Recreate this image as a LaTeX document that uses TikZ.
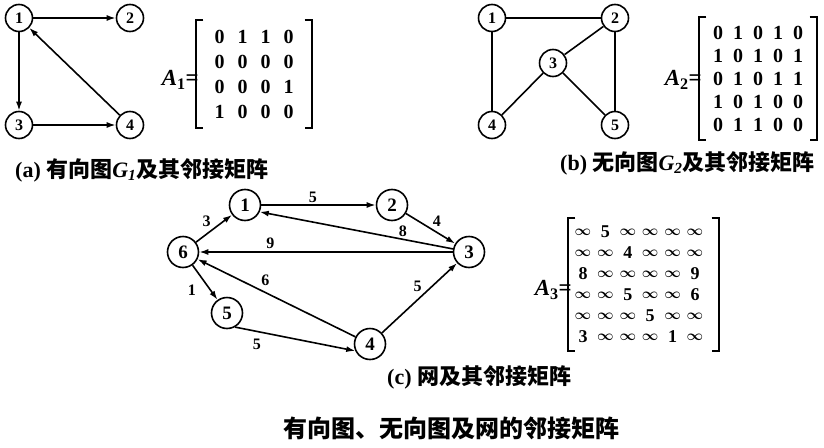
\documentclass[tikz,border=0pt]{standalone}
\usepackage{fontspec}
\setmainfont{Liberation Serif}
\newfontfamily\cjk{Noto Sans CJK SC}
\usetikzlibrary{arrows.meta,matrix,calc}
\newcommand\myinf{{\fontsize{14.5}{14.5}\selectfont\boldmath$\infty$}}
\newcommand\drawbrk[3]{%
  \draw[brk] ($(#1.north west)+(-#2+7,0)$) -- ($(#1.north west)+(-#2,0)$)
     -- ($(#1.south west)+(-#2,0)$) -- ($(#1.south west)+(-#2+7,0)$);
  \draw[brk] ($(#1.north east)+(#3-7,0)$) -- ($(#1.north east)+(#3,0)$)
     -- ($(#1.south east)+(#3,0)$) -- ($(#1.south east)+(#3-7,0)$);}
\begin{document}
\begin{tikzpicture}[x=1pt,y=-1pt,
  vtx/.style={circle,draw,line width=1.6pt,minimum size=27pt,inner sep=0pt,
    font=\fontsize{16}{16}\selectfont\bfseries},
  vtxc/.style={vtx,minimum size=31pt,font=\fontsize{19}{19}\selectfont\bfseries},
  edg/.style={line width=1.6pt},
  arc/.style={edg,-{Latex[length=9pt,width=6pt]}},
  wlab/.style={font=\fontsize{16}{16}\selectfont\bfseries,inner sep=1.5pt},
  cell/.style={inner sep=0pt,anchor=center},
  brk/.style={line width=2pt},
  mlab/.style={font=\fontsize{23}{23}\selectfont\bfseries,anchor=east,inner sep=0pt},
  captxt/.style={font=\fontsize{22}{22}\selectfont,anchor=west,inner sep=0pt},
]
\useasboundingbox (0,0) rectangle (824,447);

% ---------- (a) ----------
\node[vtx] (a1) at (19,18) {1};
\node[vtx] (a2) at (130,18) {2};
\node[vtx] (a3) at (19,125) {3};
\node[vtx] (a4) at (130,125) {4};
\draw[arc] (a1) -- (a2);
\draw[arc] (a1) -- (a3);
\draw[arc] (a3) -- (a4);
\draw[arc] (a4) -- (a1);
\matrix (m1) at (254,74) [matrix of nodes,
  nodes={cell,minimum width=23pt,minimum height=25pt,font=\fontsize{20}{20}\selectfont\bfseries},
  column sep=0pt,row sep=0pt]
{0&1&1&0\\0&0&0&0\\0&0&0&1\\1&0&0&0\\};
\drawbrk{m1}{8}{8}
\node[mlab] (l1) at (199,80) {\textit{A}\textsubscript{1}=};
\node[captxt] (ca) at (15,170) {\textbf{(a)} {\cjk\bfseries 有向图}{\bfseries\itshape G\textsubscript{1}}{\cjk\bfseries 及其邻接矩阵}};

% ---------- (b) ----------
\node[vtx] (b1) at (492,18) {1};
\node[vtx] (b2) at (615,18) {2};
\node[vtx] (b3) at (553,63) {3};
\node[vtx] (b4) at (492,125) {4};
\node[vtx] (b5) at (615,125) {5};
\draw[edg] (b1) -- (b2);
\draw[edg] (b1) -- (b4);
\draw[edg] (b2) -- (b5);
\draw[edg] (b2) -- (b3);
\draw[edg] (b3) -- (b4);
\draw[edg] (b3) -- (b5);
\matrix (m2) at (758,78.5) [matrix of nodes,
  nodes={cell,minimum width=20pt,minimum height=23pt,font=\fontsize{20}{20}\selectfont\bfseries},
  column sep=0pt,row sep=0pt]
{0&1&0&1&0\\1&0&1&0&1\\0&1&0&1&1\\1&0&1&0&0\\0&1&1&0&0\\};
\drawbrk{m2}{5}{5}
\node[mlab] (l2) at (702,80) {\textit{A}\textsubscript{2}=};
\node[captxt] (cb) at (560,163) {\textbf{(b)} {\cjk\bfseries 无向图}{\bfseries\itshape G\textsubscript{2}}{\cjk\bfseries 及其邻接矩阵}};

% ---------- (c) ----------
\node[vtxc] (c1) at (245,205) {1};
\node[vtxc] (c2) at (392,205) {2};
\node[vtxc] (c3) at (469,252) {3};
\node[vtxc] (c4) at (370,344) {4};
\node[vtxc] (c5) at (227,313) {5};
\node[vtxc] (c6) at (183,252) {6};
\draw[arc] (c1) -- node[wlab,above,pos=0.45] {5} (c2);
\draw[arc] (c2) -- node[wlab,above right,pos=0.5] {4} (c3);
\draw[arc] (c3) -- node[wlab,above,pos=0.26] {8} (c1.-25);
\draw[arc] (c3) -- node[wlab,above=1pt,pos=0.72] {9} (c6);
\draw[arc] (c6) -- node[wlab,above left,pos=0.47] {3} (c1);
\draw[arc] (c4) -- node[wlab,above=5pt,pos=0.57] {6} (c6);
\draw[arc] (c6) -- node[wlab,left=12pt,pos=0.71] {1} (c5);
\draw[arc] (c5.300) -- node[wlab,below=5pt,pos=0.18] {5} (c4.205);
\draw[arc] (c4) -- node[wlab,above left,pos=0.56] {5} (c3);
\matrix (m3) at (639,284.5) [matrix of nodes,
  nodes={cell,minimum width=22.4pt,minimum height=21pt,font=\fontsize{18}{18}\selectfont\bfseries},
  column sep=0pt,row sep=0pt]
{\myinf&5&\myinf&\myinf&\myinf&\myinf\\
 \myinf&\myinf&4&\myinf&\myinf&\myinf\\
 8&\myinf&\myinf&\myinf&\myinf&9\\
 \myinf&\myinf&5&\myinf&\myinf&6\\
 \myinf&\myinf&\myinf&5&\myinf&\myinf\\
 3&\myinf&\myinf&\myinf&1&\myinf\\};
\drawbrk{m3}{0}{9}
\node[mlab] (l3) at (572,290) {\textit{A}\textsubscript{3}=};
\node[captxt] (cc) at (387,377) {\textbf{(c)} {\cjk\bfseries 网及其邻接矩阵}};

% ---------- title ----------
\node[captxt,font=\fontsize{24}{24}\selectfont] (title) at (283,428) {\cjk\bfseries 有向图、无向图及网的邻接矩阵};
\end{tikzpicture}
\end{document}
